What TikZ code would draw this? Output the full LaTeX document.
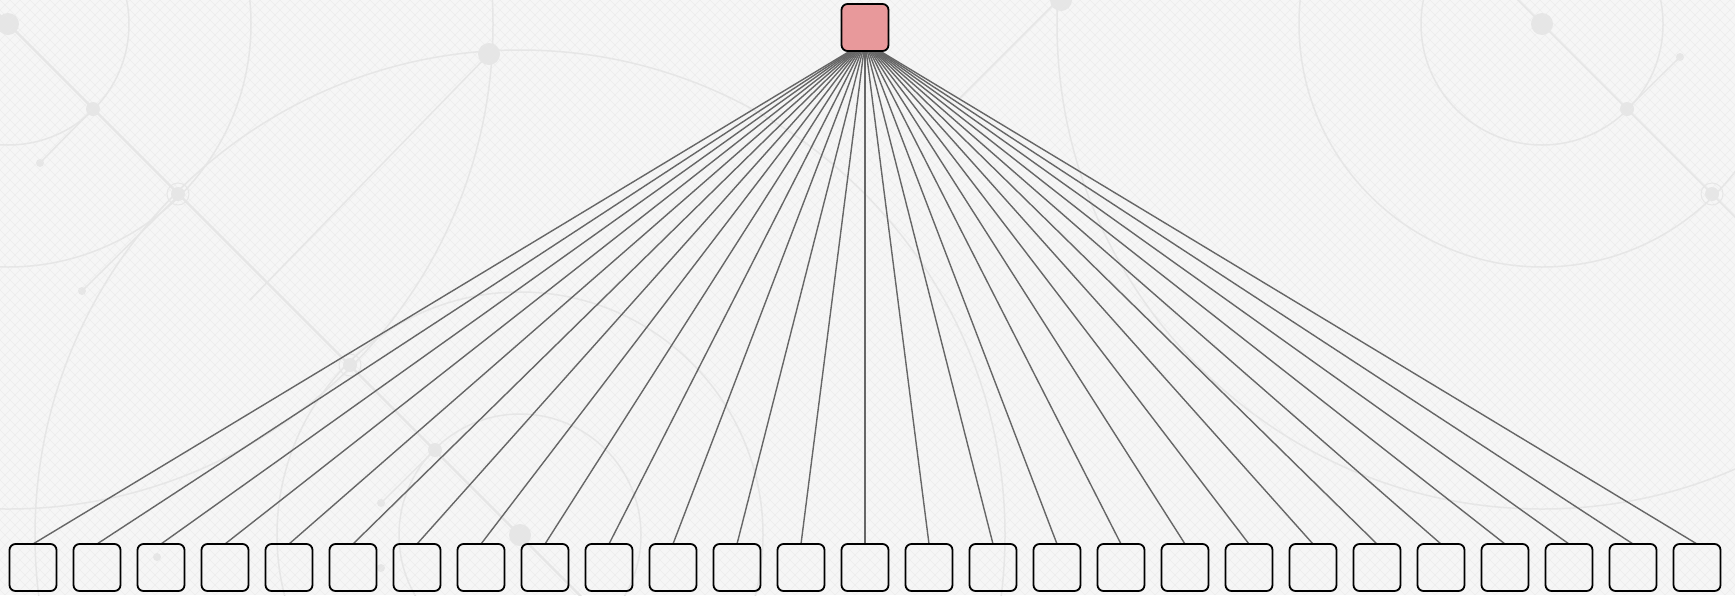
\documentclass[tikz,border=0pt]{standalone}
\definecolor{bgcol}{HTML}{F6F6F6}
\definecolor{finegrid}{HTML}{EDEDED}
\definecolor{deco}{HTML}{E6E6E6}
\definecolor{edgecol}{HTML}{666666}
\definecolor{rootfill}{HTML}{E8999B}
\pgfdeclarelayer{decor}
\pgfdeclarelayer{edgelayer}
\pgfsetlayers{decor,edgelayer,main}
\tikzset{
  box/.style={draw=black, line width=1.8pt, rounded corners=6pt,
    minimum width=47pt, minimum height=47pt, inner sep=0pt, outer sep=0pt},
  rootbox/.style={box, fill=rootfill},
  leafbox/.style={box},
  link/.style={draw=edgecol, line width=1.4pt},
  decoline/.style={draw=deco, line width=1.5pt},
  gridline/.style={draw=finegrid, line width=0.5pt},
}
\newcommand{\decomotif}[5]{%
  \begin{scope}[shift={(#1,#2)}]
    \draw[decoline] (0,0) circle[radius=121pt];
    \draw[decoline] (0,0) circle[radius=243pt];
    \draw[decoline] (0,0) circle[radius=485pt];
    \draw[decoline] (-700,-700) -- (700,700);
    \draw[decoline] (#4,#5) -- ({#3*85},{#3*85});
    \fill[deco] (0,0) circle[radius=11pt];
    \fill[deco] ({#3*85},{#3*85}) circle[radius=7pt];
    \fill[deco] ({#3*170},{#3*170}) circle[radius=7pt];
    \draw[deco, line width=1pt] ({#3*170},{#3*170}) circle[radius=11pt];
    \fill[deco] (#4,#5) circle[radius=4pt];
  \end{scope}}
\begin{document}
\begin{tikzpicture}[x=1pt,y=-1pt]
\useasboundingbox (0,0) rectangle (1735,595);
% nodes
\node[rootbox] (root) at (865,27.5) {};
\foreach \i in {0,...,26} {
  \node[leafbox] (b\i) at (33+64*\i,567.5) {};
}
\coordinate (hub) at (865,42);
% connectors
\begin{pgfonlayer}{edgelayer}
  \foreach \i in {0,...,26} {
    \draw[link] (hub) -- (b\i.north);
  }
\end{pgfonlayer}
% decorative background
\begin{pgfonlayer}{decor}
  \fill[bgcol] (0,0) rectangle (1735,595);
  \begin{scope}
    \clip (0,0) rectangle (1735,595);
    \foreach \c in {-600,-590,...,1740} {
      \draw[gridline] (\c,0) -- ++(595,595);
    }
    \foreach \c in {0,10,...,2330} {
      \draw[gridline] (\c,0) -- ++(-595,595);
    }
    \decomotif{8}{24}{1}{32}{139}
    \decomotif{520}{535}{-1}{-139}{-32}
    \decomotif{1542}{24}{1}{138}{33}
    \draw[decoline] (489,54) -- (250,300);
    \draw[decoline] (1058,0) -- (960,98);
    \draw[decoline] (179,195) -- (82,291);
    \fill[deco] (489,54) circle[radius=11pt];
    \fill[deco] (1061,0) circle[radius=11pt];
    \fill[deco] (82,291) circle[radius=4pt];
    \fill[deco] (157,557) circle[radius=4pt];
    \fill[deco] (381,568) circle[radius=4pt];
  \end{scope}
\end{pgfonlayer}
\end{tikzpicture}
\end{document}
